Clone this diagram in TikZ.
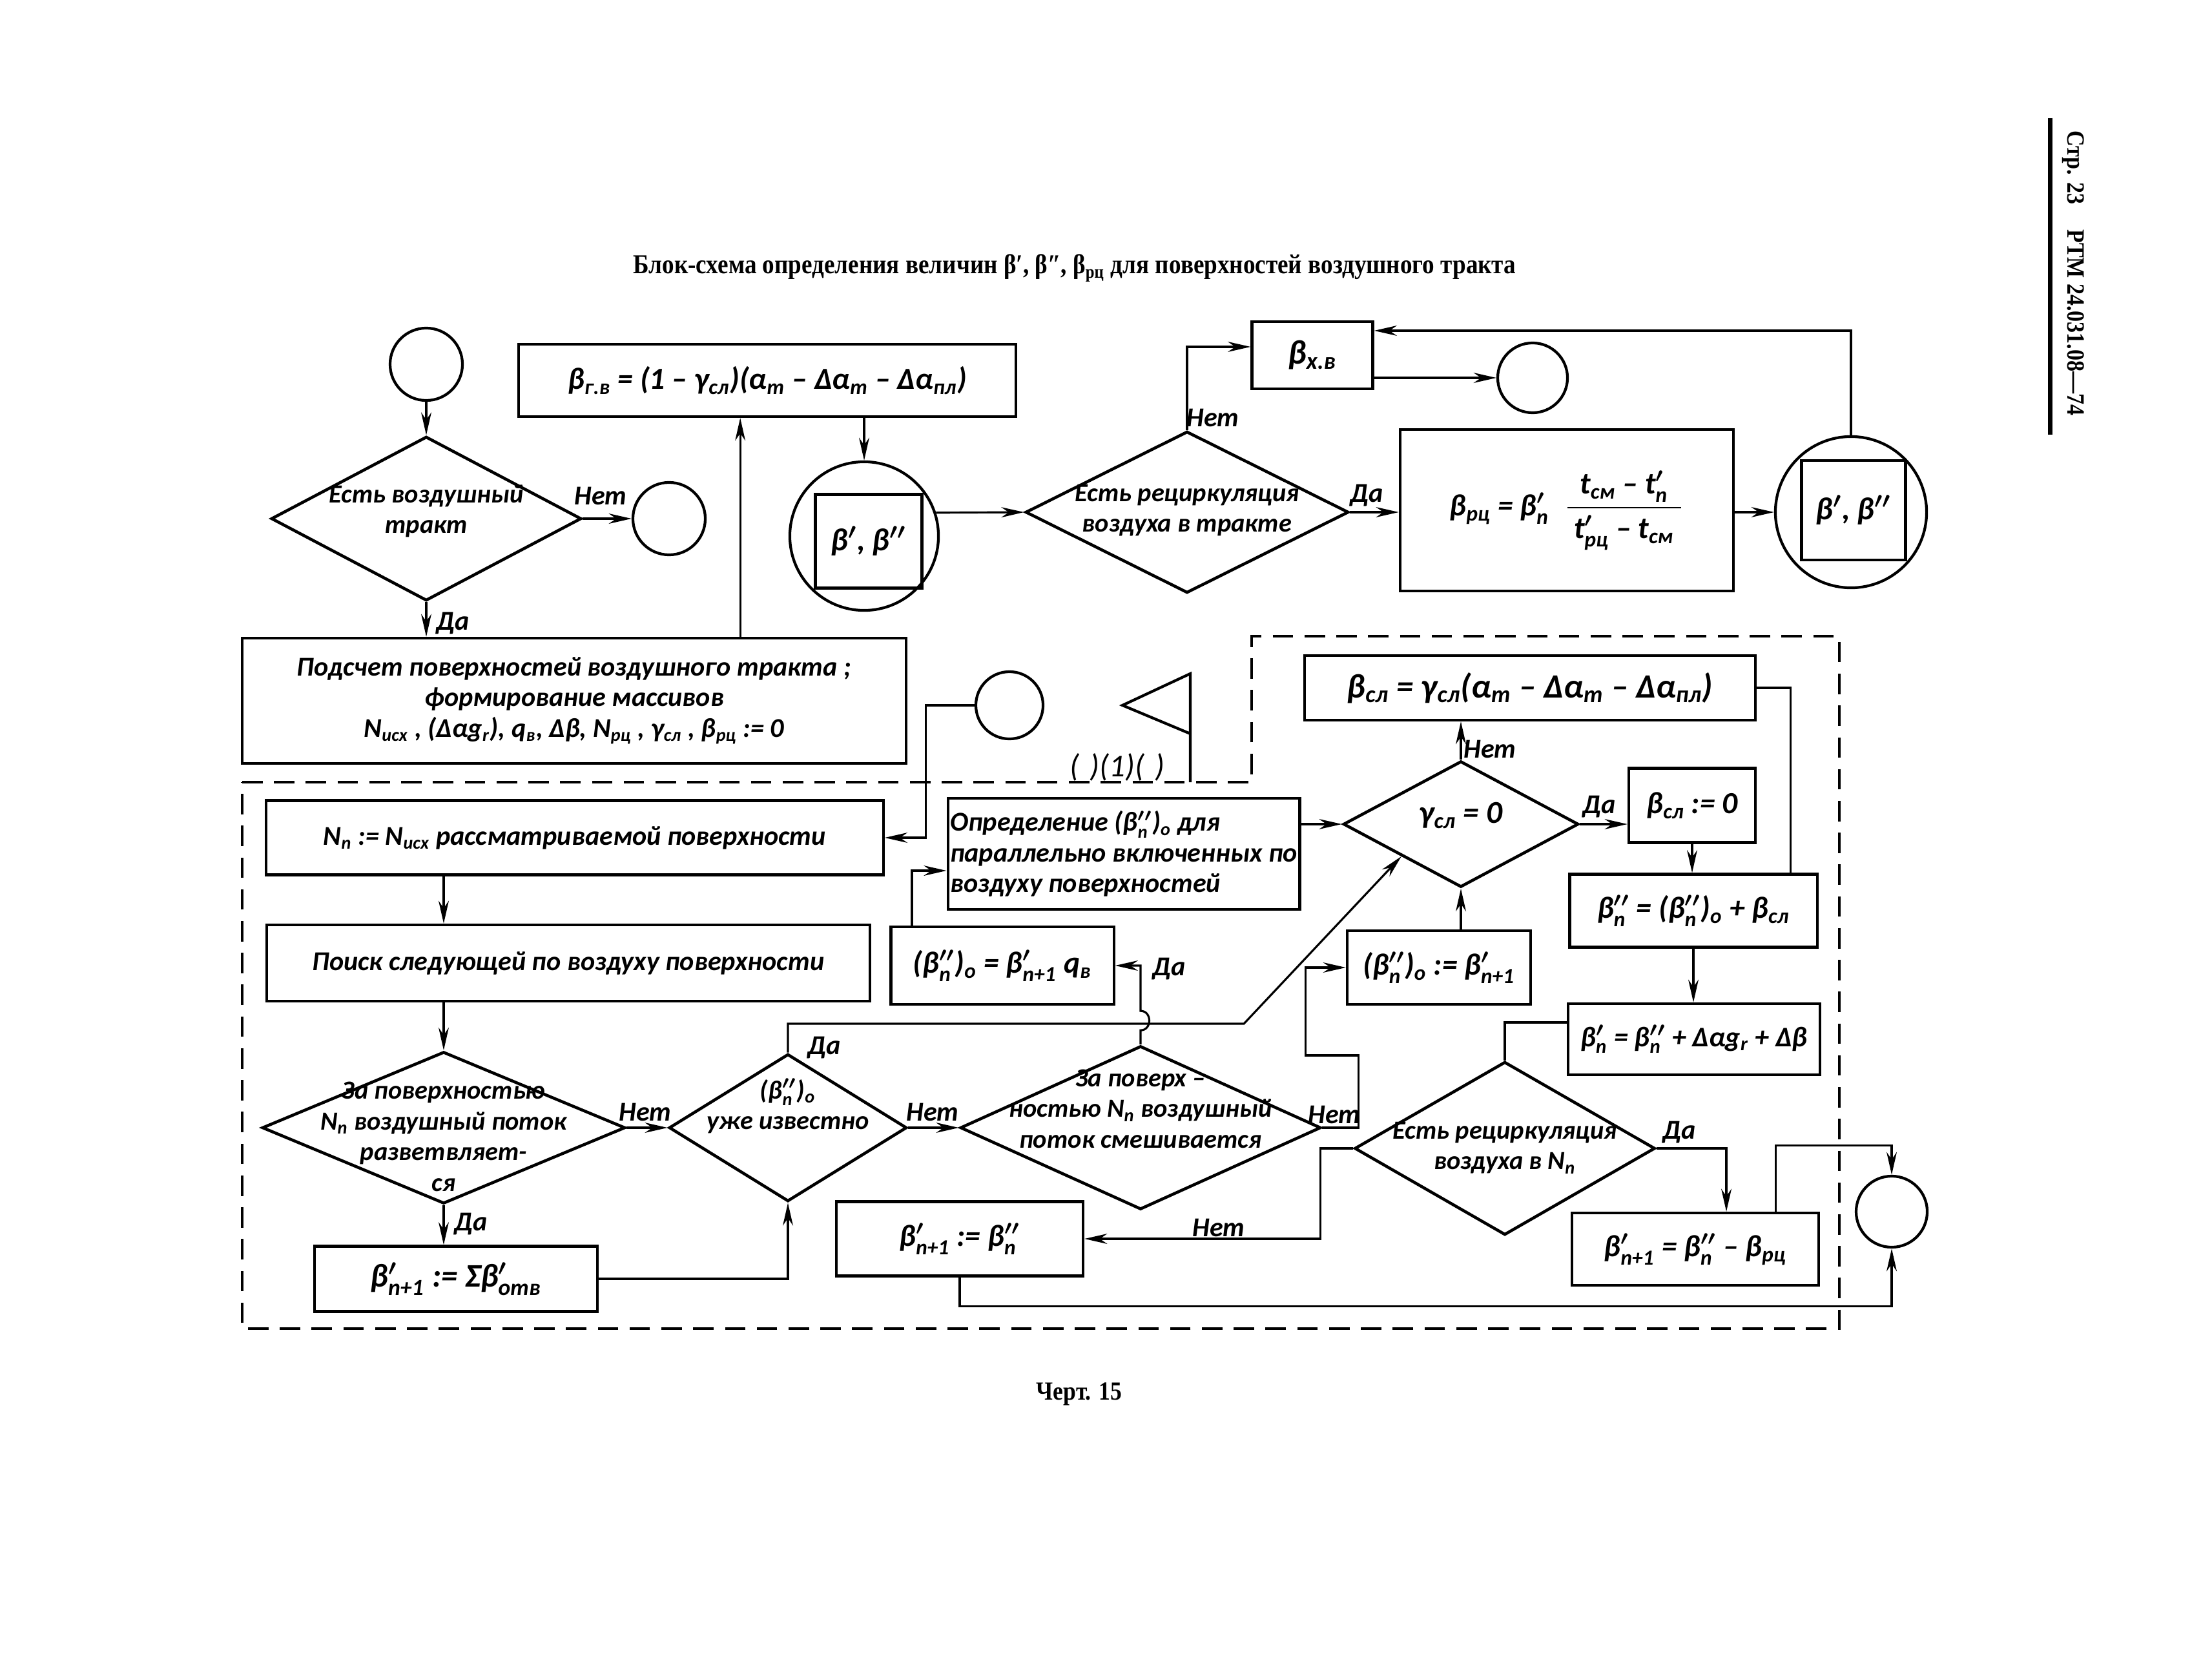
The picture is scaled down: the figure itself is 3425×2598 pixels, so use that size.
\documentclass[tikz,border=0pt]{standalone}
\usepackage{amsmath}
\usepackage{fontspec}
\setmainfont{Carlito}
\newfontfamily\headfont[FakeStretch=0.88]{Liberation Serif}
\usetikzlibrary{shapes.geometric,arrows.meta}
\tikzset{
  box/.style 2 args={draw, line width=1.2pt, minimum width=#1cm, minimum height=#2cm, inner sep=1pt, align=center},
  formula/.style={font=\bfseries\itshape\fontsize{13.5}{15}\selectfont},
  dia/.style 2 args={diamond, draw, line width=1.3pt, minimum width=#1cm, minimum height=#2cm, inner sep=0pt, font=\bfseries\itshape\fontsize{11.5}{13.5}\selectfont},
  conn/.style={circle, draw, line width=1.2pt, minimum size=#1cm, inner sep=0pt},
  flow/.style={line width=0.9pt, -{Stealth[length=10pt,width=4.5pt]}},
  wire/.style={line width=0.9pt},
  dashframe/.style={line width=1.2pt, dash pattern=on 9pt off 5pt},
  lbl/.style={inner sep=1pt}
}
\newcommand\prm{\boldsymbol{\prime}}
\newcommand\subidx[1]{\ensuremath{_{\text{#1}}}}
\newcommand\supsub[2]{\ensuremath{^{#1}_{\text{#2}}}}
\newcommand\dtext[2][0pt]{\smash{\makebox[0pt]{\raisebox{#1}{\begin{tabular}{@{}c@{}}#2\end{tabular}}}}}
\begin{document}
\begin{tikzpicture}[x=0.01cm, y=-0.01cm, every node/.style={font=\bfseries\itshape\fontsize{12}{13.5}\selectfont}]
\useasboundingbox (0,0) rectangle (3425,2598);

\node[font=\headfont\bfseries\fontsize{12}{14}\selectfont] (title) at (1664,415) {Блок-схема определения величин β′, β″, β\textsubscript{рц} для поверхностей воздушного тракта};
\node[rotate=-90, font=\headfont\bfseries\fontsize{11}{13}\selectfont] (page) at (3210,423) {Стр. 23\quad РТМ 24.031.08—74};
\draw[line width=2pt] (3174,183) -- (3174,673);
\node[font=\headfont\bfseries\fontsize{11.5}{13}\selectfont] (chert) at (1671,2158) {Черт. 15};

\draw[dashframe] (375,1211) -- (1938,1211) -- (1938,985) -- (2848,985) -- (2848,2057) -- (375,2057) -- cycle;

\foreach \n/\x/\y/\d in {C1/660/564/1.12, C2/1036/803/1.12, C4/2373/585/1.08, C6/1563/1092/1.04, C7/2929/1876/1.10}{
	\node[conn=\d] (\n) at (\x,\y) {};
}
\node[conn=2.30] (C3) at (1338,830) {};
\node[box={1.65}{1.45}, font=\bfseries\itshape\fontsize{14}{16}\selectfont] (S1) at (1345,838) {β\ensuremath{^{\prm}}, β\ensuremath{^{\prm\prm}}};
\node[conn=2.34] (C5) at (2866,793) {};
\node[box={1.61}{1.54}, font=\bfseries\itshape\fontsize{14}{16}\selectfont] (S2) at (2870,790) {β\ensuremath{^{\prm}}, β\ensuremath{^{\prm\prm}}};

\node[dia={4.80}{2.54}] (D1) at (660,803) {\dtext{Есть воздушный\\тракт}};
\node[dia={5.00}{2.50}] (D2) at (1838,793) {\dtext[-0.08cm]{Есть рециркуляция\\воздуха в тракте}};
\node[dia={5.62}{2.35}] (D3) at (687,1746) {\dtext[-0.28cm]{За поверхностью\\N\subidx{n} воздушный поток\\разветвляет-\\ся}};
\node[dia={3.68}{2.28}] (D4) at (1220,1746) {\dtext[0.2cm]{(β\supsub{\prm\prm}{n})\subidx{o}\\уже известно}};
\node[dia={5.58}{2.53}] (D5) at (1766,1746) {\dtext[0.15cm]{За поверх –\\ностью N\subidx{n} воздушный\\поток смешивается}};
\node[dia={3.64}{1.95}, font=\bfseries\itshape\fontsize{14}{16}\selectfont] (D6) at (2262,1276) {\dtext{γ\subidx{сл} = 0}};
\node[dia={4.65}{2.68}] (D7) at (2330,1778) {\dtext[-0.1cm]{Есть рециркуляция\\воздуха в N\subidx{n}}};

\node[box={10.28}{1.94}] (B1) at (889,1085) {Подсчет поверхностей воздушного тракта ;\\формирование массивов\\N\subidx{исх} , (Δαg\subidx{r}), q\subidx{в}, Δβ, N\subidx{рц} , γ\subidx{сл} , β\subidx{рц} := 0};
\node[box={7.69}{1.12}, formula] (B2) at (1188,589) {β\subidx{г.в} = (1 – γ\subidx{сл})(α\subidx{т} – Δα\subidx{т} – Δα\subidx{пл})};
\node[box={1.87}{1.04}, font=\bfseries\itshape\fontsize{15}{17}\selectfont] (B3) at (2032,550) {β\subidx{х.в}};
\node[box={5.16}{2.50}, formula] (B4) at (2426,790) {β\subidx{рц} = β\supsub{\prm}{n}\enspace\ensuremath{\dfrac{\text{\ t\subidx{см} – t\supsub{\prm}{n}\ }}{\text{\ t\supsub{\prm}{рц} – t\subidx{см}\ }}}};
\node[box={9.55}{1.15}] (B5) at (890,1297) {N\subidx{n} := N\subidx{исх} рассматриваемой поверхности};
\node[box={9.33}{1.18}] (B6) at (880,1491) {Поиск следующей по воздуху поверхности};
\node[box={4.38}{1.01}, font=\bfseries\itshape\fontsize{14.5}{16}\selectfont] (B7) at (706,1980) {β\supsub{\prm}{n+1} := Σβ\supsub{\prm}{отв}};
\node[box={5.40}{1.72}, align=left] (Bdef) at (1740,1322) {Определение (β\supsub{\prm\prm}{n})\subidx{o} для\\параллельно включенных по\\воздуху поверхностей};
\node[box={3.45}{1.20}, formula] (Bqv) at (1552,1495) {(β\supsub{\prm\prm}{n})\subidx{o} = β\supsub{\prm}{n+1} q\subidx{в}};
\node[box={2.84}{1.14}, formula] (B9) at (2228,1498) {(β\supsub{\prm\prm}{n})\subidx{o} := β\supsub{\prm}{n+1}};
\node[box={6.98}{1.00}, font=\bfseries\itshape\fontsize{15}{17}\selectfont] (B10) at (2369,1065) {β\subidx{сл} = γ\subidx{сл}(α\subidx{т} – Δα\subidx{т} – Δα\subidx{пл})};
\node[box={1.96}{1.15}, formula] (B11) at (2620,1247) {β\subidx{сл} := 0};
\node[box={3.83}{1.13}, formula] (B12) at (2622,1410) {β\supsub{\prm\prm}{n} = (β\supsub{\prm\prm}{n})\subidx{o} + β\subidx{сл}};
\node[box={3.90}{1.10}, font=\bfseries\itshape\fontsize{12.5}{14}\selectfont] (B13) at (2623,1609) {β\supsub{\prm}{n} = β\supsub{\prm\prm}{n} + Δαg\subidx{r} + Δβ};
\node[box={3.82}{1.12}, formula] (B14) at (2625,1934) {β\supsub{\prm}{n+1} = β\supsub{\prm\prm}{n} – β\subidx{рц}};
\node[box={3.82}{1.15}, formula] (B15) at (1486,1918) {β\supsub{\prm}{n+1} := β\supsub{\prm\prm}{n}};

\coordinate (jA) at (1926,1585);

\draw[flow] (C1.south) -- (D1.north);
\draw[flow] (D1.east) -- (C2.west);
\draw[flow] (D1.south) -- (D1.south |- B1.north);
\draw[flow] ([xshift=2.57cm]B1.north) -- ([xshift=2.57cm]B1.north |- B2.south);
\draw[flow] (B2.south -| C3.north) -- (C3.north);
\draw[flow] (C3.18) -- (D2.west);
\draw[flow] (D2.north) |- ([yshift=0.13cm]B3.west);
\draw[flow] (B3.east |- C4.west) -- (C4.west);
\draw[flow] (D2.east) -- (D2.east -| B4.west);
\draw[flow] (B4.east |- C5.west) -- (C5.west);
\draw[flow] (C5.north) |- ([yshift=0.38cm]B3.east);
\draw[flow] (C6.west) -- ++(-75,0) |- (B5.east);
\draw[flow] (B5.south -| D3.north) -- (B6.north -| D3.north);
\draw[flow] (B6.south -| D3.north) -- (D3.north);
\draw[flow] (D3.east) -- (D4.west);
\draw[flow] (D3.south) -- (D3.south |- B7.north);
\draw[flow] (B7.east) -| (D4.south);
\draw[flow] (D4.north) |- (jA) -- (D6.south west);
\draw[flow] (D4.east) -- (D5.west);
\draw[flow] (D5.north) -- ++(0,-22) .. controls +(18,0) and +(18,0) .. ++(0,-30) -- (D5.north |- Bqv.east) -- (Bqv.east);
\draw[flow] (D5.east) -- ++(56,0) -- ++(0,-112) -- ++(-82,0) |- (B9.west);
\draw[flow] (B9.north -| D6.south) -- (D6.south);
\draw[flow] (Bdef.east |- D6.west) -- (D6.west);
\draw[flow] ([xshift=-1.40cm]Bqv.north) |- ([yshift=-0.26cm]Bdef.west);
\draw[flow] (D6.north) -- (D6.north |- B10.south);
\draw[flow] (D6.east) -- (D6.east -| B11.west);
\draw[flow] (B11.south) -- (B11.south |- B12.north);
\draw[wire] (B10.east) -| ([xshift=1.5cm]B12.north);
\draw[flow] (B12.south) -- (B12.south |- B13.north);
\draw[wire] ([yshift=0.26cm]B13.west) -| (D7.north);
\draw[flow] (D7.east) -| ([xshift=0.48cm]B14.north);
\draw[flow] ([xshift=1.24cm]B14.north) -- ++(0,-102) -| (C7.north);
\draw[flow] (D7.west) -- ++(-51,0) |- (B15.east);
\draw[flow] (B15.south) -- ++(0,45) -| (C7.south);

\draw[line width=1.2pt] (1843,1211) -- (1843,1043) -- (1738,1092) -- (1843,1136);
\node[font=\itshape\fontsize{14}{16}\selectfont] (flagtxt) at (1730,1188) {(\,\,)(1)(\,\,)};

\foreach \n/\x/\y/\t in {l1/930/768/Нет, l2/701/965/Да, l3/1878/647/Нет, l4/2116/767/Да, l5/999/1722/Нет, l6/729/1895/Да, l7/1276/1622/Да, l8/1444/1722/Нет, l9/1810/1500/Да, l10/2066/1726/Нет, l11/2307/1160/Нет, l12/2476/1249/Да, l13/2600/1753/Да, l14/1887/1901/Нет}{
	\node[lbl] (\n) at (\x,\y) {\t};
}
\end{tikzpicture}
\end{document}
